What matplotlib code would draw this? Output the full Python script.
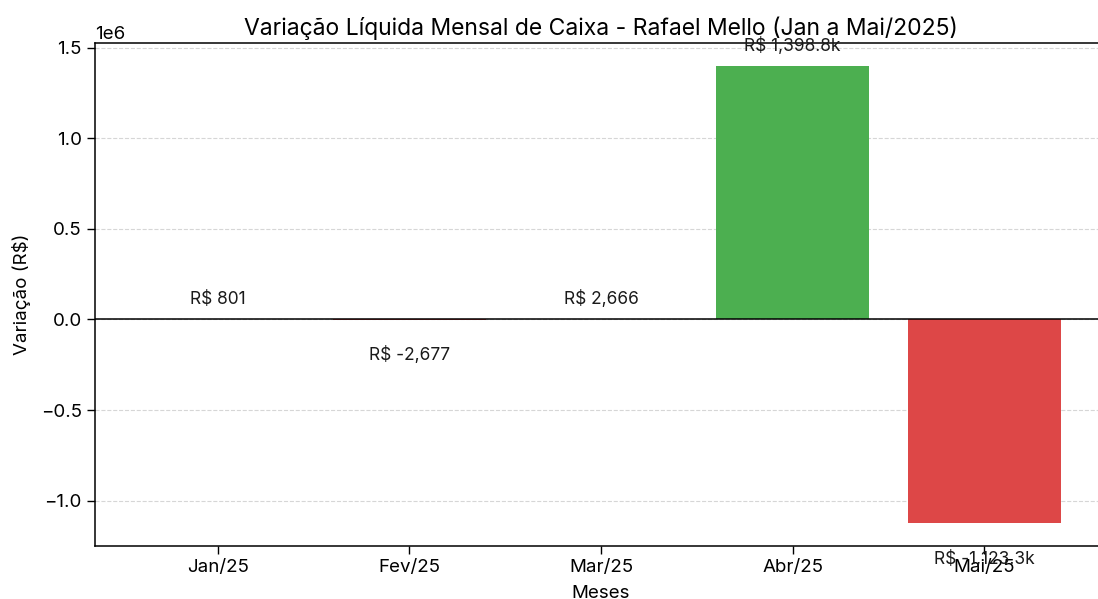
import matplotlib
matplotlib.use("Agg")
import matplotlib.pyplot as plt

months = ["Jan/25", "Fev/25", "Mar/25", "Abr/25", "Mai/25"]
values = [801, -2677, 2666, 1398800, -1123300]
labels = ["R$ 801", "R$ -2,677", "R$ 2,666", "R$ 1,398.8k", "R$ -1,123.3k"]

plt.rcParams['font.family'] = ['Inter', 'DejaVu Sans']
FS = 13.5

fig = plt.figure(figsize=(10.98, 5.99), dpi=100)
ax = fig.add_axes([95/1098, 53/599, (1107-95)/1098, (546-43)/599])

colors = ["#4CAF50" if v >= 0 else "#DD4747" for v in values]
x = list(range(len(months)))
ax.bar(x, values, width=0.8, color=colors, zorder=2)
ax.axhline(0, color="black", linewidth=1.1, zorder=3)
ax.set_xticks(x)
ax.set_xticklabels(months)
ax.grid(axis='y', linestyle='--', color='#cccccc', alpha=0.8, zorder=0)
ax.set_axisbelow(True)

for xi, v, lab in zip(x, values, labels):
    if v >= 0:
        ax.annotate(lab, (xi, v), xytext=(0, 14.5), textcoords='offset points',
                    ha='center', va='center', fontsize=FS - 1, color='#1a1a1a')
    else:
        ax.annotate(lab, (xi, v), xytext=(0, -25.5), textcoords='offset points',
                    ha='center', va='center', fontsize=FS - 1, color='#1a1a1a')

ax.tick_params(labelsize=FS, length=6, width=1)
ax.yaxis.get_offset_text().set_fontsize(FS)
ax.set_ylabel("Variação (R$)", fontsize=FS, labelpad=7)
ax.set_xlabel("Meses", fontsize=FS, labelpad=6)
ax.set_title("Variação Líquida Mensal de Caixa - Rafael Mello (Jan a Mai/2025)", fontsize=16.5, pad=6)
for s in ax.spines.values():
    s.set_linewidth(1.1)

fig.savefig("out.png", dpi=100)
